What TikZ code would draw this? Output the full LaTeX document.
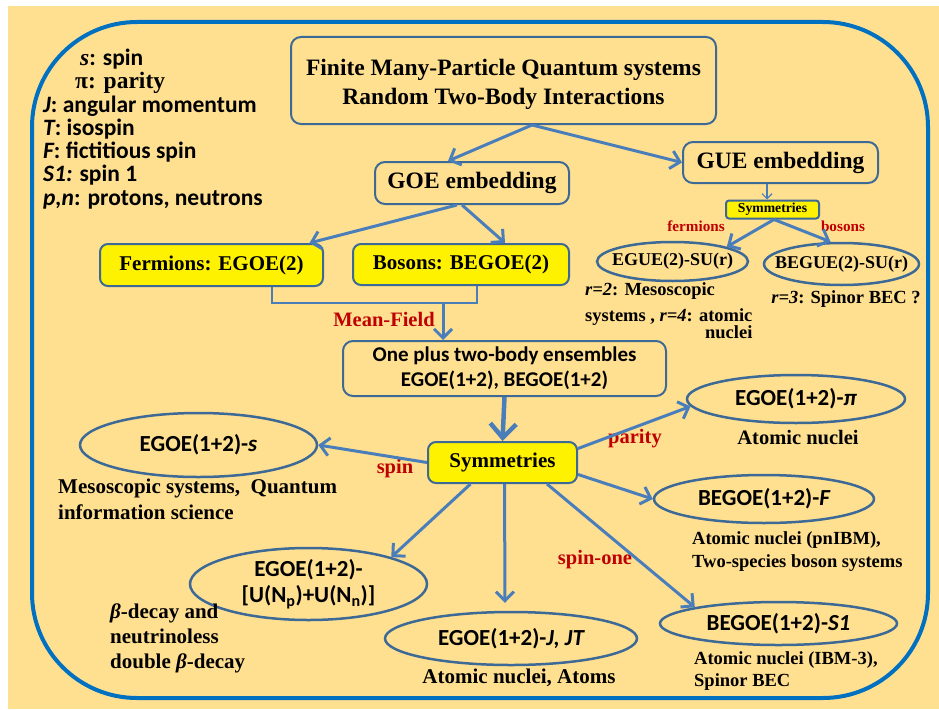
\documentclass[tikz,border=0pt]{standalone}
\usepackage{fontspec}
\setmainfont{Liberation Serif}
\newfontfamily\carlito{Carlito}
\usetikzlibrary{shapes.geometric,arrows.meta}

\definecolor{sand}{RGB}{255,224,145}
\definecolor{rim}{RGB}{0,112,192}
\definecolor{edge}{RGB}{61,105,150}
\definecolor{flow}{RGB}{74,126,187}
\definecolor{tagred}{RGB}{192,0,0}

\begin{document}
\begin{tikzpicture}[x=1pt, y=-1pt,
    rbox/.style={draw=edge, line width=2pt, rounded corners=10pt, align=center,
        font=\bfseries\fontsize{23.5}{29}\selectfont},
    ybox/.style={rbox, fill=yellow, rounded corners=8pt,
        font=\bfseries\fontsize{21}{25}\selectfont},
    oval/.style={ellipse, draw=edge, line width=2.5pt, inner sep=0pt, align=center,
        font=\carlito\bfseries\fontsize{23}{26}\selectfont},
    note/.style={inner sep=0pt, align=left, font=\bfseries\fontsize{18.5}{22.5}\selectfont},
    tag/.style={inner sep=0pt, text=tagred, font=\bfseries\fontsize{20.5}{24}\selectfont},
    link/.style={draw=flow, line width=3pt, -{Straight Barb[length=9pt,width=18pt]}},
    ]
    \useasboundingbox (0,0) rectangle (939,709);
    \fill[sand] (8,6) rectangle (939,709);
    \draw[rim, line width=4pt, rounded corners=105pt] (32,22) rectangle (928,698);

    % legend
    \node[inner sep=0pt, anchor=west, align=left,
        font=\carlito\bfseries\fontsize{23.5}{23.3}\selectfont] (key) at (43,129) {%
        \hspace*{37pt}{\rmfamily\itshape s}: spin\\
        \hspace*{32pt}{\rmfamily π: parity}\\
        {\itshape J}: angular momentum\\
        {\itshape T}: isospin\\
        {\itshape F}: fictitious spin\\
        {\itshape S1:} spin 1\\
        {\itshape p,n}: protons, neutrons};

    % upper part
    \node[rbox, minimum width=425pt, minimum height=87pt] (top) at (503.5,80.5)
        {\rule{0pt}{24pt}Finite Many-Particle Quantum systems\\Random Two-Body Interactions};
    \node[rbox, minimum width=194pt, minimum height=42pt] (goe) at (472,183) {GOE embedding};
    \node[rbox, minimum width=195pt, minimum height=41pt] (gue) at (780.5,162.5) {GUE embedding};
    \node[ybox, minimum width=223pt, minimum height=42pt] (ferm) at (211.5,265) {Fermions: EGOE(2)};
    \node[ybox, minimum width=216pt, minimum height=41pt] (bos) at (461,264.5) {Bosons: BEGOE(2)};
    \node[ybox, rounded corners=3pt, minimum width=93pt, minimum height=18pt, inner sep=0pt,
        font=\bfseries\fontsize{13.7}{16}\selectfont] (gsym) at (772.5,209.5) {Symmetries};
    \node[oval, inner xsep=-15pt, minimum width=151pt, minimum height=39pt,
        font=\bfseries\fontsize{18}{21}\selectfont] (egue) at (672.5,261.5) {EGUE(2)-SU(r)};
    \node[oval, inner xsep=-15pt, minimum width=155pt, minimum height=42pt,
        font=\bfseries\fontsize{18}{21}\selectfont] (begue) at (841.5,264) {BEGUE(2)-SU(r)};
    \node[tag, font=\bfseries\fontsize{15.2}{18}\selectfont] (fer) at (696,226) {fermions};
    \node[tag, font=\bfseries\fontsize{15.2}{18}\selectfont] (bo) at (843,226) {bosons};
    \node[note, font=\bfseries\fontsize{18.5}{20}\selectfont, anchor=west] (egued) at (585,311) {%
        {\itshape r=2}: Mesoscopic\\[6pt]
        systems , {\itshape r=4}: atomic\\[-3pt]
        \hphantom{systems , {\itshape r=4}: atomic}\llap{nuclei}};
    \node[note] (begued) at (846,299) {{\itshape r=3}: Spinor BEC ?};

    % middle part
    \node[rbox, minimum width=323pt, minimum height=55pt,
        font=\carlito\bfseries\fontsize{21}{25}\selectfont] (one) at (504.5,368.5)
        {One plus two-body ensembles\\EGOE(1+2), BEGOE(1+2)};
    \node[ybox, minimum width=149pt, minimum height=41pt] (sym) at (502.5,462.5) {Symmetries};
    \node[tag] (mfl) at (384,319) {Mean-Field};

    % ensembles
    \node[oval, minimum width=237pt, minimum height=64pt] (es) at (198.5,445) {EGOE(1+2)-{\itshape s}};
    \node[oval, minimum width=218pt, minimum height=48pt] (epi) at (796,399) {EGOE(1+2)-{\itshape π}};
    \node[oval, minimum width=220pt, minimum height=48pt] (ef) at (764,499) {BEGOE(1+2)-{\itshape F}};
    \node[oval, minimum width=237pt, minimum height=43pt] (es1) at (778.5,623.5) {BEGOE(1+2)-{\itshape S1}};
    \node[oval, minimum width=252pt, minimum height=53pt] (ej) at (511,638.5) {EGOE(1+2)-{\itshape J, JT}};
    \node[oval, minimum width=237pt, minimum height=72pt] (eu) at (308.5,584)
        {EGOE(1+2)-\\{}[U(N\textsubscript{p})+U(N\textsubscript{n})]};

    \node[tag] (ls) at (395,469) {spin};
    \node[tag] (lpi) at (635,439) {parity};
    \node[tag] (ls1) at (595,560) {spin-one};

    \node[note, font=\bfseries\fontsize{21}{26}\selectfont, anchor=west] (esd) at (58,499)
        {Mesoscopic systems,~ Quantum\\information science};
    \node[note, font=\bfseries\fontsize{20.5}{24}\selectfont] (epid) at (798,438) {Atomic nuclei};
    \node[note, anchor=west] (efd) at (692,551.5)
        {Atomic nuclei (pnIBM),\\Two-species boson systems};
    \node[note, anchor=west] (es1d) at (694,671)
        {Atomic nuclei (IBM-3),\\Spinor BEC};
    \node[note, font=\bfseries\fontsize{21}{25}\selectfont] (ejd) at (519,678) {Atomic nuclei, Atoms};
    \node[note, font=\bfseries\fontsize{21}{25}\selectfont, anchor=west] (eud) at (110,638)
        {{\itshape β}-decay and\\neutrinoless\\double {\itshape β}-decay};

    % connectors
    \draw[link] ([xshift=28.5pt]top.south) -- ([xshift=-24pt]goe.north);
    \draw[link] ([xshift=28.5pt]top.south) -- (gue.west);
    \draw[link] ([xshift=-15pt]goe.south) -- ([xshift=98pt]ferm.north);
    \draw[link] ([xshift=-10pt]goe.south) -- ([xshift=44pt]bos.north);
    \draw[flow, line width=1.2pt, -{Straight Barb[length=5pt,width=10pt]}]
        ([xshift=-13.5pt]gue.south) -- ([xshift=-5.5pt]gsym.north);
    \draw[link] ([xshift=1.5pt]gsym.south) -- (egue.north east);
    \draw[link] ([xshift=1.5pt]gsym.south) -- ([xshift=-11pt]begue.north);

    \draw[flow, line width=2pt] ([xshift=60.5pt]ferm.south) -- ++(0,16) -| ([xshift=16pt]bos.south);
    \coordinate (mf) at (443,302);
    \draw[link] (mf) -- (mf |- one.north);
    \draw[flow, line width=4.5pt, -{Straight Barb[length=14pt,width=26pt]}] (one.south) -- (sym.north);

    \draw[link] (sym.west) -- (es.east);
    \draw[link] ([yshift=14pt]sym.east) -- (epi.184);
    \draw[link] ([yshift=-12pt]sym.east) -- (ef.west);
    \draw[link] ([xshift=44.5pt]sym.south) -- (es1.169);
    \draw[link] ([xshift=2pt]sym.south) -- ([xshift=-6pt,yshift=8pt]ej.north);
    \draw[link] ([xshift=-32pt]sym.south) -- (eu.18);
\end{tikzpicture}
\end{document}
